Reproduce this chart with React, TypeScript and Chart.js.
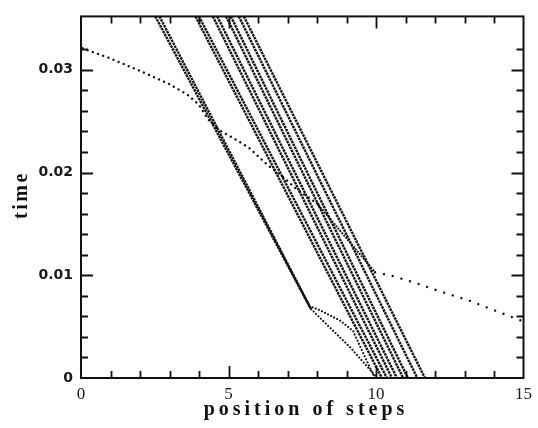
import React, { useEffect, useRef } from 'react';
import { Chart, registerables } from 'chart.js';

Chart.register(...registerables);

// ---- axes ----
const X_MIN = 0;
const X_MAX = 15;
const T_MIN = 0;
const T_MAX = 0.0352;
const xTickValues = [0, 5, 10, 15];
const xTickLabels = ['0', '5', '10', '15'];
const yTickValues = [0, 0.01, 0.02, 0.03];
const yTickLabels = ['0', '0.01', '0.02', '0.03'];
const xTitle = 'position of steps';
const yTitle = 'time';

// ---- step trajectories (position, time) ----
// left pair of bunched steps (slow part)
const pairAX = [2.52, 7.74];
const pairAT = [0.0352, 0.007];
const pairBX = [2.66, 7.8];
const pairBT = [0.0352, 0.0067];
// their free (fast) branches near the bottom
const branchAX = [7.74, 8.1, 8.78, 9.22, 9.6, 9.96];
const branchAT = [0.007, 0.0066, 0.0056, 0.0046, 0.0022, 0];
const branchBX = [7.8, 8.44, 9.12, 9.8, 10.04];
const branchBT = [0.0067, 0.0049, 0.003, 0.0008, 0];

// main bunch
const bunch1X = [3.88, 10.2];
const bunch1T = [0.0352, 0];
const bunch2X = [4.0, 10.37];
const bunch2T = [0.0352, 0];
const bunch3X = [4.47, 10.54];
const bunch3T = [0.0352, 0];
const bunch4X = [4.62, 10.71];
const bunch4T = [0.0352, 0];
const bunch5X = [4.92, 10.92];
const bunch5T = [0.0352, 0];
const bunch6X = [5.08, 11.08];
const bunch6T = [0.0352, 0];
const bunch7X = [5.35, 11.4];
const bunch7T = [0.0352, 0];
const bunch8X = [5.52, 11.66];
const bunch8T = [0.0352, 0];

// single fast step: upper-left free part, part inside the bunch, lower-right free part
const freeUpperX = [0.05, 1.0, 2.0, 3.0, 3.6, 4.0, 4.3, 4.7, 5.2, 5.7, 6.3, 6.8, 7.3, 8.0];
const freeUpperT = [0.0321, 0.0311, 0.0299, 0.0286, 0.0276, 0.0266, 0.0252, 0.0241, 0.0233, 0.0224, 0.0208, 0.0197, 0.0184, 0.017];
const freeMidX = [8.0, 9.97];
const freeMidT = [0.017, 0.0103];
const freeLowerX = [9.97, 10.6, 11.4, 12.2, 13.1, 14.0, 15.0];
const freeLowerT = [0.0103, 0.0099, 0.0092, 0.0084, 0.0076, 0.0066, 0.0055];

const zip = (xs: number[], ts: number[]) => xs.map((x, i) => ({ x, y: ts[i] }));

const dense = {
  borderColor: '#121212',
  borderWidth: 2.4,
  borderDash: [2.5, 0.8],
  pointRadius: 0,
  showLine: true,
  fill: false,
  tension: 0,
};
const dotted = (gap: number, w = 2.2) => ({
  borderColor: '#111',
  borderWidth: w,
  borderDash: [0.01, gap],
  borderCapStyle: 'round',
  pointRadius: 0,
  showLine: true,
  fill: false,
  tension: 0,
});

const isOn = (vals: number[], v: number) => vals.some((m) => Math.abs(m - v) < 1e-9);

const framePlugin = {
  id: 'frame',
  afterDraw(chart: any) {
    const { ctx, chartArea: a, scales } = chart;
    const xs = scales.x;
    const ys = scales.y;
    ctx.save();
    ctx.strokeStyle = '#111';
    ctx.lineWidth = 2;
    ctx.strokeRect(a.left, a.top, a.right - a.left, a.bottom - a.top);
    ctx.lineWidth = 1.8;
    ctx.beginPath();
    xs.ticks.forEach((t: any) => {
      const v = t.value;
      if (v <= X_MIN + 1e-9 || v >= X_MAX - 1e-9) return;
      const len = isOn(xTickValues, v) ? 12 : 7;
      const px = Math.round(xs.getPixelForValue(v)) + 0.5;
      ctx.moveTo(px, a.bottom);
      ctx.lineTo(px, a.bottom - len);
      ctx.moveTo(px, a.top);
      ctx.lineTo(px, a.top + len);
    });
    ys.ticks.forEach((t: any) => {
      const v = t.value;
      if (v <= T_MIN + 1e-9 || v >= T_MAX - 1e-6) return;
      const len = isOn(yTickValues, v) ? 12 : 7;
      const py = Math.round(ys.getPixelForValue(v)) + 0.5;
      ctx.moveTo(a.left, py);
      ctx.lineTo(a.left + len, py);
      ctx.moveTo(a.right, py);
      ctx.lineTo(a.right - len, py);
    });
    ctx.stroke();

    // axis titles
    ctx.fillStyle = '#111';
    ctx.font = 'bold 20px "Liberation Serif", "DejaVu Serif", serif';
    ctx.textBaseline = 'alphabetic';
    ctx.textAlign = 'left';
    (ctx as any).letterSpacing = '4px';
    const wX = ctx.measureText(xTitle).width;
    ctx.fillText(xTitle, 304 - wX / 2 + 2, 415);
    (ctx as any).letterSpacing = '2.5px';
    const wY = ctx.measureText(yTitle).width;
    ctx.translate(27, 196);
    ctx.rotate(-Math.PI / 2);
    ctx.fillText(yTitle, -wY / 2 + 1, 0);
    ctx.restore();
  },
};

export default function App() {
  const ref = useRef<HTMLCanvasElement | null>(null);
  useEffect(() => {
    document.body.style.margin = '0';
    const canvas = ref.current;
    if (!canvas) return;
    const datasets: any[] = [
      { data: zip(pairAX, pairAT), ...dense },
      { data: zip(pairBX, pairBT), ...dense },
      { data: zip(branchAX, branchAT), ...dotted(3.4, 2.1) },
      { data: zip(branchBX, branchBT), ...dotted(3.4, 2.1) },
      { data: zip(bunch1X, bunch1T), ...dense },
      { data: zip(bunch2X, bunch2T), ...dense },
      { data: zip(bunch3X, bunch3T), ...dense },
      { data: zip(bunch4X, bunch4T), ...dense },
      { data: zip(bunch5X, bunch5T), ...dense },
      { data: zip(bunch6X, bunch6T), ...dense },
      { data: zip(bunch7X, bunch7T), ...dense },
      { data: zip(bunch8X, bunch8T), ...dense },
      { data: zip(freeUpperX, freeUpperT), ...dotted(5.5, 2.4) },
      { data: zip(freeMidX, freeMidT), ...dotted(3, 2.2) },
      { data: zip(freeLowerX, freeLowerT), ...dotted(9, 2.4) },
    ];
    const chart = new Chart(canvas, {
      type: 'scatter',
      data: { datasets },
      options: {
        animation: false,
        responsive: false,
        devicePixelRatio: 1,
        layout: { padding: { left: 0, right: 13, top: 12, bottom: 0 } },
        plugins: { legend: { display: false }, tooltip: { enabled: false } },
        scales: {
          x: {
            type: 'linear',
            min: X_MIN,
            max: X_MAX,
            grid: { display: false, drawTicks: false },
            border: { display: false },
            ticks: {
              stepSize: 1,
              autoSkip: false,
              maxRotation: 0,
              padding: 6,
              color: '#1a1a1a',
              font: { family: '"Liberation Serif", serif', size: 17 },
              callback: (v: any) => {
                const i = xTickValues.findIndex((m) => Math.abs(m - Number(v)) < 1e-9);
                return i >= 0 ? xTickLabels[i] : '';
              },
            },
            afterFit: (s: any) => {
              s.height = 50;
            },
          },
          y: {
            type: 'linear',
            min: T_MIN,
            max: T_MAX,
            grid: { display: false, drawTicks: false },
            border: { display: false },
            ticks: {
              stepSize: 0.002,
              autoSkip: false,
              padding: 8,
              color: '#1a1a1a',
              font: { family: '"DejaVu Sans", sans-serif', size: 14, weight: 'bold' },
              callback: (v: any) => {
                const i = yTickValues.findIndex((m) => Math.abs(m - Number(v)) < 1e-9);
                return i >= 0 ? yTickLabels[i] : '';
              },
            },
            afterFit: (s: any) => {
              s.width = 81;
            },
          },
        },
      },
      plugins: [framePlugin],
    } as any);
    return () => chart.destroy();
  }, []);
  return <canvas ref={ref} width={538} height={428} style={{ display: 'block' }} />;
}
